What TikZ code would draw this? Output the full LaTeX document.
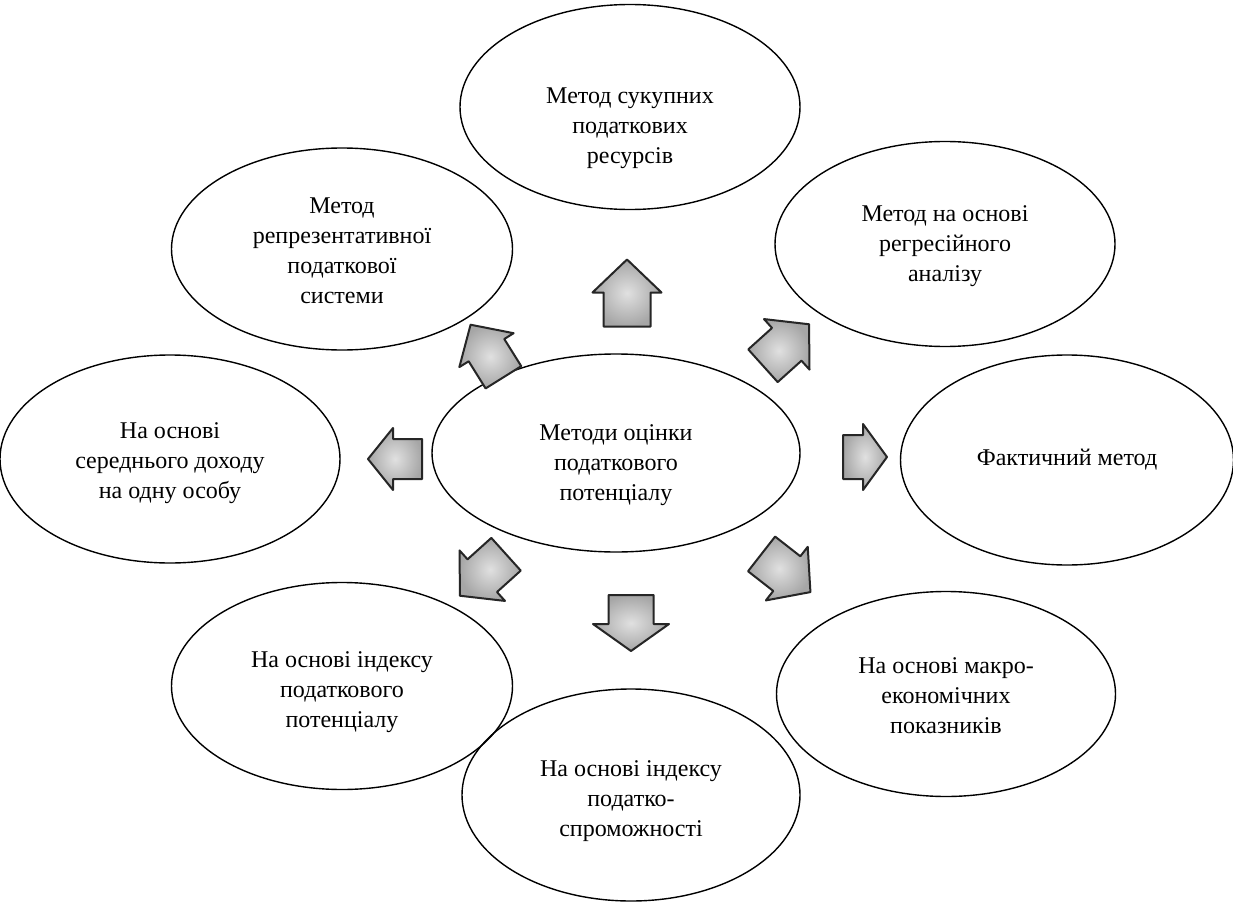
\documentclass[tikz,border=0pt]{standalone}
\usepackage{fontspec}
\setmainfont{Liberation Serif}
\usetikzlibrary{shapes.geometric}
% block arrow: #1 name, #2 x, #3 y, #4 direction (deg, counter-clockwise), #5 length, #6 head width, #7 shaft width, #8 head length
\newcommand{\myblockarrow}[8]{%
  \begin{scope}[shift={(#2,#3)},rotate=#4]
    \coordinate (#1) at (0,0);
    \path[blockarrow] (-#5/2,-#7/2) -- (#5/2-#8,-#7/2) -- (#5/2-#8,-#6/2) -- (#5/2,0)
      -- (#5/2-#8,#6/2) -- (#5/2-#8,#7/2) -- (-#5/2,#7/2) -- cycle;
  \end{scope}}
\begin{document}
\begin{tikzpicture}[x=1pt,y=-1pt,
  oval/.style={ellipse,draw=black,line width=1.4pt,inner sep=0pt},
  txt/.style={align=center,inner sep=0pt,font=\fontsize{24}{30}\selectfont},
  blockarrow/.style={draw=black!85,line width=2pt,inner color=black!12,outer color=black!35,
    line join=round}]
\useasboundingbox (0,0) rectangle (1233,904);
\fill[white] (0,0) rectangle (1233,904);
\node[oval,minimum width=368pt,minimum height=198pt] (c) at (616,453) {};
\node[oval,minimum width=340pt,minimum height=205pt] (n) at (630,107) {};
\node[oval,minimum width=341pt,minimum height=202pt] (nw) at (342,249) {};
\node[oval,minimum width=340pt,minimum height=205pt] (ne) at (945,244) {};
\node[oval,minimum width=333pt,minimum height=210pt] (e) at (1067,460) {};
\node[oval,minimum width=340pt,minimum height=208pt] (w) at (170,459) {};
\node[oval,minimum width=341pt,minimum height=207pt] (sw) at (342,686) {};
\node[oval,minimum width=338pt,minimum height=212pt] (s) at (631,795) {};
\node[oval,minimum width=339pt,minimum height=205pt] (se) at (946,694) {};
\node[txt] (c-t) at ([yshift=-12pt]c.center) {Методи оцінки\\податкового\\потенціалу};
\node[txt] (n-t) at ([yshift=-21pt]n.center) {Метод сукупних\\податкових\\ресурсів};
\node[txt] (nw-t) at ([yshift=-2pt]nw.center) {Метод\\репрезентативної\\податкової\\системи};
\node[txt] (ne-t) at ([yshift=-2pt]ne.center) {Метод на основі\\регресійного\\аналізу};
\node[txt] (e-t) at (e.center) {Фактичний метод};
\node[txt] (w-t) at ([yshift=-4pt]w.center) {На основі\\середнього доходу\\на одну особу};
\node[txt] (sw-t) at ([yshift=-6pt]sw.center) {На основі індексу\\податкового\\потенціалу};
\node[txt] (s-t) at ([yshift=-6pt]s.center) {На основі індексу\\податко-\\спроможності};
\node[txt] (se-t) at ([yshift=-2pt]se.center) {На основі макро-\\економічних\\показників};
\myblockarrow{an}{627}{293}{90}{67}{69}{47}{33}
\myblockarrow{ane}{786}{345}{42}{62}{68}{44}{30}
\myblockarrow{anw}{487}{351}{122}{62}{64}{42}{30}
\myblockarrow{aw}{395}{459}{180}{54}{62}{40}{25}
\myblockarrow{ae}{865}{457}{0}{44}{66}{44}{24}
\myblockarrow{asw}{483}{575}{222}{62}{68}{44}{30}
\myblockarrow{as}{631}{623}{270}{56}{76}{45}{27}
\myblockarrow{ase}{786}{573}{-38}{62}{68}{44}{30}
\end{tikzpicture}
\end{document}
